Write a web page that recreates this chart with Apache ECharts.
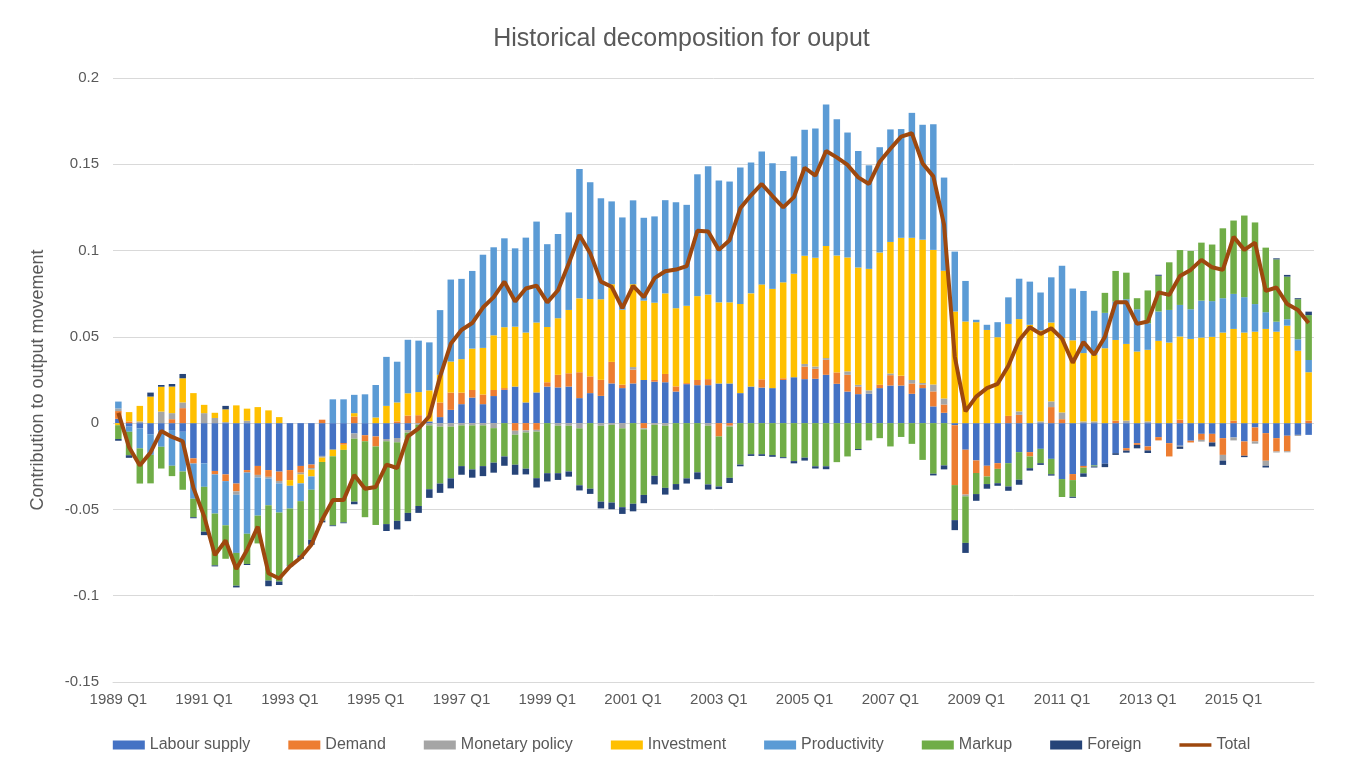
<!DOCTYPE html>
<html>
<head>
<meta charset="utf-8">
<script src="https://cdn.jsdelivr.net/npm/echarts@6/dist/echarts.min.js"></script>
<style>
html,body{margin:0;padding:0;background:#fff;}
#chart{width:1363px;height:776px;}
</style>
</head>
<body>
<div id="chart"></div>
<script>
// Quarterly categories 1989 Q1 .. 2016 Q4
const startYear = 1989, endYear = 2016;
const categories = [];
for (let y = startYear; y <= endYear; y++) for (let q = 1; q <= 4; q++) categories.push(y + ' Q' + q);

const seriesNames = ['Labour supply','Demand','Monetary policy','Investment','Productivity','Markup','Foreign','Total'];

const labourSupply = [
0.0025,-0.002,-0.003,-0.0064,-0.004,-0.004,-0.005,-0.0204,-0.0233,-0.0277,
-0.0297,-0.035,-0.0272,-0.0248,-0.0272,-0.0281,-0.0272,-0.0248,-0.024,-0.019,
-0.0154,-0.0115,-0.006,-0.007,-0.0077,-0.0092,-0.0086,-0.004,0,0.001,
0.0035,0.0077,0.011,0.0148,0.011,0.0157,0.0193,0.0212,0.012,0.0178,
0.0212,0.0207,0.0212,0.0145,0.0174,0.0158,0.023,0.0203,0.023,0.025,
0.024,0.0237,0.0183,0.0226,0.022,0.022,0.023,0.023,0.0174,0.0212,
0.0206,0.0203,0.025,0.0266,0.0255,0.0257,0.028,0.0228,0.0183,0.0168,
0.017,0.0203,0.0218,0.0218,0.017,0.0203,0.0097,0.006,-0.0012,-0.0154,
-0.0216,-0.0247,-0.0232,-0.0232,-0.0168,-0.0168,-0.0149,-0.0207,-0.0324,-0.0295,
-0.0248,-0.0245,-0.0235,-0.0174,-0.0145,-0.0116,-0.0135,-0.0081,-0.0116,-0.0131,
-0.0102,-0.0062,-0.0062,-0.0087,-0.0083,-0.0106,-0.0025,-0.0058,-0.0087,-0.0073,
-0.0068,-0.0068];

const demand = [
0.0045,0.001,0,0,0,0.0023,0.0087,-0.003,0,-0.002,
-0.0039,-0.0045,-0.0014,-0.0052,-0.0039,-0.0054,-0.0058,-0.0039,-0.002,0.002,
0,-0.001,0.0038,-0.0035,-0.0058,0,0.001,0.0044,0.0046,0,
0.0085,0.01,0.0067,0.0044,0.0056,0.0035,0.001,-0.0044,-0.0042,-0.0039,
0.0025,0.0073,0.0077,0.015,0.0097,0.0093,0.0125,0.002,0.008,-0.003,
0.001,0.0048,0.003,0.0006,0.003,0.0035,-0.0077,-0.0015,0,0,
0.0048,0,0.001,0,0.0073,0.0058,0.0087,0.0066,0.0097,0.0044,
0,0.002,0.006,0.0056,0.006,0.002,0.0087,0.0048,-0.0347,-0.026,
-0.0073,-0.0062,-0.0033,0.0042,0.0048,-0.0025,0,0.0093,0.0023,-0.0035,
-0.001,0,0,0.0015,-0.0014,-0.001,-0.0023,-0.0019,-0.0077,0.002,
-0.001,-0.0035,-0.005,-0.0097,0.0015,-0.0083,-0.0081,-0.016,-0.0077,-0.009,
0,0.0015];

const monetaryPolicy = [
0.0015,0,0.001,0,0.0067,0.0035,0.0033,0,0.0058,0.003,
0.0006,-0.002,0.0014,-0.0015,-0.001,-0.0014,0,-0.001,-0.001,-0.001,
0,0,-0.003,0,0,-0.0013,-0.0025,-0.0015,-0.001,-0.0013,
-0.002,-0.002,-0.0013,-0.0013,-0.0013,-0.0029,0,-0.0023,-0.0012,-0.001,
0,-0.0015,-0.0015,-0.003,0,-0.0015,-0.001,-0.003,0.0015,-0.0006,
-0.001,-0.0015,0,0,0,-0.0015,0,-0.0005,0,0,
0,0,0,0,0.0015,0.0013,0.001,0,0.002,0.001,
0.002,0,0.001,0,0.002,0.001,0.004,0.0035,0,-0.001,
0,0,0,0,0.002,0,0.001,0.0033,0.0039,0,
0.001,0.001,0,0,0.0015,0,0.001,0,0,-0.0005,
0,-0.001,0,-0.0033,-0.0017,0,-0.0013,-0.0029,-0.0006,-0.0006,
-0.0006,0];

const investment = [
-0.0012,0.0054,0.009,0.0154,0.0144,0.0154,0.014,0.0174,0.0048,0.003,
0.0074,0.0103,0.007,0.0093,0.0074,0.0035,-0.0033,-0.0052,-0.0039,-0.0025,
-0.0038,-0.003,0.002,0,0.0033,0.01,0.011,0.0129,0.0134,0.018,
0.016,0.018,0.0194,0.024,0.027,0.0317,0.0353,0.0347,0.0405,0.0405,
0.032,0.0328,0.0367,0.0428,0.0448,0.0467,0.045,0.0434,0.048,0.046,
0.0448,0.0467,0.0453,0.0448,0.0486,0.049,0.047,0.047,0.0517,0.054,
0.055,0.0575,0.0556,0.06,0.0627,0.063,0.065,0.0677,0.066,0.068,
0.0704,0.0766,0.0762,0.08,0.0824,0.083,0.078,0.074,0.0647,0.0589,
0.0585,0.054,0.0498,0.0533,0.0535,0.057,0.0527,0.0457,0.043,0.048,
0.0396,0.0386,0.0434,0.0467,0.0444,0.0415,0.0415,0.0477,0.0467,0.0482,
0.0488,0.0496,0.05,0.0525,0.0531,0.0525,0.053,0.0546,0.053,0.0565,
0.042,0.028];

const productivity = [
0.004,-0.003,-0.0116,-0.012,-0.0097,-0.0207,-0.023,-0.0204,-0.0136,-0.0227,
-0.0256,-0.0337,-0.0355,-0.0221,-0.0155,-0.0169,-0.0132,-0.0103,-0.0077,0,
0.0138,0.0138,0.0106,0.0167,0.0188,0.0284,0.0236,0.031,0.0298,0.0278,
0.0375,0.0475,0.0465,0.045,0.054,0.051,0.0515,0.0454,0.055,0.0585,
0.048,0.0488,0.0565,0.075,0.0677,0.0585,0.048,0.0535,0.0486,0.048,
0.05,0.054,0.0614,0.0585,0.0706,0.0743,0.0706,0.07,0.079,0.0758,
0.077,0.0728,0.0645,0.068,0.073,0.075,0.082,0.079,0.0724,0.0675,
0.06,0.061,0.0652,0.063,0.0724,0.0666,0.0728,0.054,0.0347,0.0235,
0.0014,0.003,0.0087,0.0154,0.0234,0.025,0.022,0.0262,0.042,0.03,
0.036,0.0255,0.0205,0.0222,0.0259,0.0245,0.0154,0.017,0.0189,0.0183,
0.0172,0.0214,0.0207,0.0199,0.0203,0.0205,0.016,0.0097,0.0058,0.0037,
0.0066,0.0071];

const markup = [
-0.008,-0.0136,-0.0204,-0.0165,-0.0126,-0.006,-0.0106,-0.0107,-0.026,-0.03,
-0.0194,-0.019,-0.0175,-0.0161,-0.0436,-0.04,-0.033,-0.0314,-0.029,-0.034,
-0.04,-0.042,-0.0365,-0.044,-0.0455,-0.048,-0.0455,-0.0465,-0.047,-0.037,
-0.033,-0.03,-0.0236,-0.0255,-0.0236,-0.02,-0.0193,-0.0174,-0.021,-0.027,
-0.029,-0.0275,-0.0265,-0.033,-0.038,-0.044,-0.045,-0.0457,-0.0467,-0.038,
-0.0295,-0.036,-0.0353,-0.032,-0.0285,-0.034,-0.029,-0.0297,-0.024,-0.018,
-0.018,-0.0185,-0.0197,-0.022,-0.02,-0.025,-0.025,-0.0226,-0.0193,-0.015,
-0.01,-0.0087,-0.0135,-0.008,-0.012,-0.0213,-0.0293,-0.0245,-0.0203,-0.027,
-0.0122,-0.0044,-0.0083,-0.0135,-0.016,-0.0068,-0.0083,-0.0089,-0.0104,-0.0097,
-0.0033,-0.0006,0.0116,0.0178,0.0154,0.0064,0.019,0.0207,0.0276,0.0318,
0.0338,0.0336,0.0328,0.0405,0.0425,0.0473,0.0473,0.0374,0.0361,0.0247,
0.0232,0.026];

const foreign = [
-0.001,-0.0015,0,0.0023,0.001,0.0015,0.0025,-0.0006,-0.002,-0.0006,
0.002,-0.001,-0.0006,0,-0.0033,-0.002,-0.0005,-0.002,-0.0029,-0.001,
-0.0005,-0.0005,-0.0015,0,0,-0.004,-0.005,-0.0048,-0.004,-0.005,
-0.0054,-0.0058,-0.005,-0.0048,-0.0058,-0.0058,-0.0054,-0.0058,-0.0033,-0.0054,
-0.0048,-0.0039,-0.003,-0.003,-0.003,-0.0039,-0.0039,-0.0039,-0.0044,-0.0048,
-0.005,-0.0039,-0.0033,-0.003,-0.004,-0.003,-0.0015,-0.003,-0.001,-0.001,
-0.001,-0.001,-0.0006,-0.0013,-0.0017,-0.0013,-0.0017,0,0,-0.0006,
0,0,0,0,0,0,-0.001,-0.0023,-0.0058,-0.0058,
-0.0039,-0.0027,-0.0015,-0.0025,-0.0029,-0.0014,-0.001,-0.0008,0,-0.0006,
-0.002,-0.0006,-0.002,-0.001,-0.0012,-0.002,-0.0015,0.0006,0,-0.0013,
0,0,-0.0023,-0.0025,0,-0.0008,0,-0.001,0.0006,0.001,
0.0006,0.002];

const total = [
0.006,-0.014,-0.0245,-0.017,-0.0045,-0.008,-0.0105,-0.0375,-0.054,-0.0765,
-0.068,-0.0845,-0.0735,-0.06,-0.087,-0.09,-0.083,-0.078,-0.0705,-0.056,
-0.0446,-0.0446,-0.03,-0.038,-0.037,-0.024,-0.026,-0.0077,-0.003,0.004,
0.027,0.046,0.054,0.058,0.067,0.073,0.082,0.0705,0.078,0.0797,
0.07,0.077,0.0925,0.109,0.0985,0.082,0.079,0.0666,0.0795,0.073,
0.084,0.088,0.089,0.091,0.1115,0.111,0.1004,0.106,0.1245,0.132,
0.1386,0.1316,0.125,0.131,0.148,0.1434,0.1577,0.154,0.1496,0.1424,
0.1386,0.1515,0.159,0.166,0.168,0.1505,0.143,0.115,0.0386,0.0068,
0.0154,0.0203,0.0228,0.0332,0.048,0.0556,0.0517,0.055,0.049,0.035,
0.047,0.0396,0.05,0.07,0.07,0.0575,0.0589,0.0758,0.0743,0.0853,
0.0888,0.0946,0.0903,0.0888,0.108,0.1004,0.1046,0.0766,0.0786,0.069,
0.0656,0.058];

const barData = [labourSupply, demand, monetaryPolicy, investment, productivity, markup, foreign];
const colors = ['#4472C4','#ED7D31','#A5A5A5','#FFC000','#5B9BD5','#70AD47','#264478','#9E480E'];

const FONT = 'Liberation Sans';
const series = barData.map((d, i) => ({
  name: seriesNames[i], type: 'bar', stack: 'contrib', data: d,
  barWidth: 6.5, itemStyle: { color: colors[i] }, animation: false
}));
series.push({
  name: 'Total', type: 'line', data: total, symbol: 'none', z: 10,
  lineStyle: { color: colors[7], width: 4 }, itemStyle: { color: colors[7] }, animation: false
});

const chart = echarts.init(document.getElementById('chart'), null, { renderer: 'canvas' });
chart.setOption({
  animation: false,
  backgroundColor: '#ffffff',
  title: {
    text: 'Historical decomposition for ouput', left: 'center', top: 22,
    textStyle: { fontFamily: FONT, fontSize: 25, fontWeight: 'normal', color: '#595959' }
  },
  legend: {
    bottom: 18, left: 'center', itemWidth: 32, itemHeight: 9, itemGap: 38,
    symbolKeepAspect: true,
    textStyle: { fontFamily: FONT, fontSize: 16, color: '#595959' },
    data: seriesNames.map((n, i) => i < 7 ? { name: n, icon: 'rect' } :
      { name: n, icon: 'path://M0,0 L32,0 L32,3.5 L0,3.5 Z', itemStyle: { color: colors[7] } })
  },
  grid: { left: 113, right: 49, top: 78, bottom: 94, containLabel: false },
  xAxis: {
    type: 'category', data: categories, boundaryGap: true,
    axisLine: { onZero: false, lineStyle: { color: '#d9d9d9' } },
    axisTick: { show: false },
    axisLabel: { interval: 7, fontFamily: FONT, fontSize: 15, color: '#595959', margin: 10 }
  },
  yAxis: {
    type: 'value', min: -0.15, max: 0.2, interval: 0.05,
    name: 'Contribution to output movement', nameLocation: 'middle', nameGap: 66,
    nameTextStyle: { fontFamily: FONT, fontSize: 18, color: '#595959' },
    axisLine: { show: false }, axisTick: { show: false },
    axisLabel: { fontFamily: FONT, fontSize: 15, color: '#595959', margin: 14,
      formatter: v => String(Math.round(v * 100) / 100) },
    splitLine: { lineStyle: { color: '#d9d9d9', width: 1 } }
  },
  series: series
});
</script>
</body>
</html>
